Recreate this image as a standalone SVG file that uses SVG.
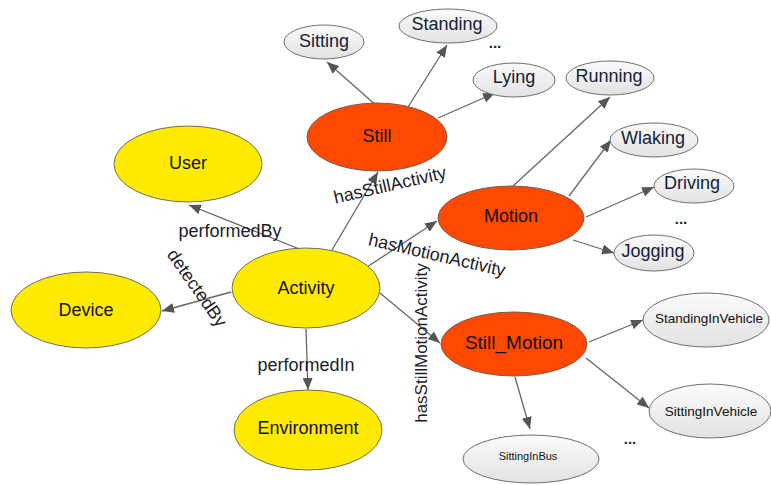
<svg xmlns="http://www.w3.org/2000/svg" width="771" height="485" viewBox="0 0 771 485">
<defs>
<linearGradient id="leafg" x1="0" y1="0" x2="0" y2="1">
<stop offset="0" stop-color="#fbfbfb"/>
<stop offset="1" stop-color="#e2e2e2"/>
</linearGradient>
<marker id="arr" viewBox="0 0 12 10" refX="12" refY="5" markerWidth="12" markerHeight="10" markerUnits="userSpaceOnUse" orient="auto">
<path d="M0,0 L12,5 L0,10 z" fill="#555"/>
</marker>
</defs>
<style>
text{font-family:"Liberation Sans",Arial,sans-serif;fill:#111;text-anchor:middle;dominant-baseline:central}
.y{fill:#ffea00;stroke:#6e6e5a;stroke-width:1}
.o{fill:#ff4800;stroke:#7a5a50;stroke-width:1}
.l{fill:url(#leafg);stroke:#6f6f6f;stroke-width:1}
.e{stroke:#666;stroke-width:1.3;fill:none;marker-end:url(#arr)}
.n{font-size:18px}
.s{font-size:18px;fill:#14213a}
.lab{font-size:18px;fill:#1d1d2a}
.dots{font-size:15px;font-weight:bold;fill:#222}
</style>
<rect width="771" height="485" fill="#fff"/>
<g id="connectors">
<path class="e" d="M302,250 L189,205"/>
<path class="e" d="M231,292 L162,311"/>
<path class="e" d="M332,250 L378,172"/>
<path class="e" d="M367,267 L437,221"/>
<path class="e" d="M380,293 L440,343"/>
<path class="e" d="M306,329 L308,390"/>
<path class="e" d="M378,107 L327,62"/>
<path class="e" d="M408,107 L447,45"/>
<path class="e" d="M438,118 L495,93"/>
<path class="e" d="M513,186 L610,97"/>
<path class="e" d="M569,196 L611,140"/>
<path class="e" d="M586,217 L654,187"/>
<path class="e" d="M573,240 L614,253"/>
<path class="e" d="M589,342 L643,320"/>
<path class="e" d="M586,358 L649,408"/>
<path class="e" d="M515,377 L530,429"/>
</g>
<g id="edge-labels">
<text class="lab" x="230" y="231">performedBy</text>
<text class="lab" transform="translate(197,288) rotate(55)">detectedBy</text>
<text class="lab" transform="translate(390,185) rotate(-13)">hasStillActivity</text>
<text class="lab" transform="translate(437,255) rotate(13)">hasMotionActivity</text>
<text class="lab" style="font-size:17px" transform="translate(421,343) rotate(-90)">hasStillMotionActivity</text>
<text class="lab" x="306" y="365">performedIn</text>
</g>
<g id="User"><ellipse class="y" cx="188" cy="164" rx="74" ry="38"/><text class="n" x="188" y="163">User</text></g>
<g id="Device"><ellipse class="y" cx="86" cy="310" rx="75" ry="38"/><text class="n" x="86" y="310">Device</text></g>
<g id="Activity"><ellipse class="y" cx="306" cy="288" rx="74" ry="40"/><text class="n" x="306" y="288">Activity</text></g>
<g id="Environment"><ellipse class="y" cx="308" cy="430" rx="74" ry="40"/><text class="n" x="308" y="428">Environment</text></g>
<g id="Still"><ellipse class="o" cx="377" cy="137" rx="70" ry="34"/><text class="n" x="377" y="136">Still</text></g>
<g id="Motion"><ellipse class="o" cx="511" cy="218" rx="73" ry="32"/><text class="n" x="511" y="216">Motion</text></g>
<g id="Still_Motion"><ellipse class="o" cx="514" cy="344" rx="73" ry="32"/><text class="n" x="514" y="342" style="font-size:19px">Still_Motion</text></g>
<g id="Sitting"><ellipse class="l" cx="324" cy="42" rx="40" ry="17"/><text class="s" x="324" y="41">Sitting</text></g>
<g id="Standing"><ellipse class="l" cx="448" cy="26" rx="49" ry="17"/><text class="s" x="447" y="24">Standing</text></g>
<text class="dots" x="495" y="42">...</text>
<g id="Lying"><ellipse class="l" cx="514" cy="80" rx="41" ry="17"/><text class="s" x="514" y="77">Lying</text></g>
<g id="Running"><ellipse class="l" cx="610" cy="78" rx="44" ry="17"/><text class="s" x="609" y="76">Running</text></g>
<g id="Wlaking"><ellipse class="l" cx="654" cy="140" rx="44" ry="17"/><text class="s" x="653" y="138">Wlaking</text></g>
<g id="Driving"><ellipse class="l" cx="694" cy="186" rx="40" ry="17"/><text class="s" x="692" y="183">Driving</text></g>
<text class="dots" x="681" y="218">...</text>
<g id="Jogging"><ellipse class="l" cx="654" cy="253" rx="40" ry="18"/><text class="s" x="653" y="251">Jogging</text></g>
<g id="StandingInVehicle"><ellipse class="l" cx="706" cy="320" rx="63" ry="27"/><text x="709" y="318" style="font-size:13.5px">StandingInVehicle</text></g>
<g id="SittingInVehicle"><ellipse class="l" cx="710" cy="411" rx="61" ry="27"/><text x="711" y="411" style="font-size:13.5px">SittingInVehicle</text></g>
<text class="dots" x="630" y="438">...</text>
<g id="SittingInBus"><ellipse class="l" cx="531" cy="459" rx="68" ry="24"/><text x="528" y="456" style="font-size:11px">SittingInBus</text></g>
</svg>
